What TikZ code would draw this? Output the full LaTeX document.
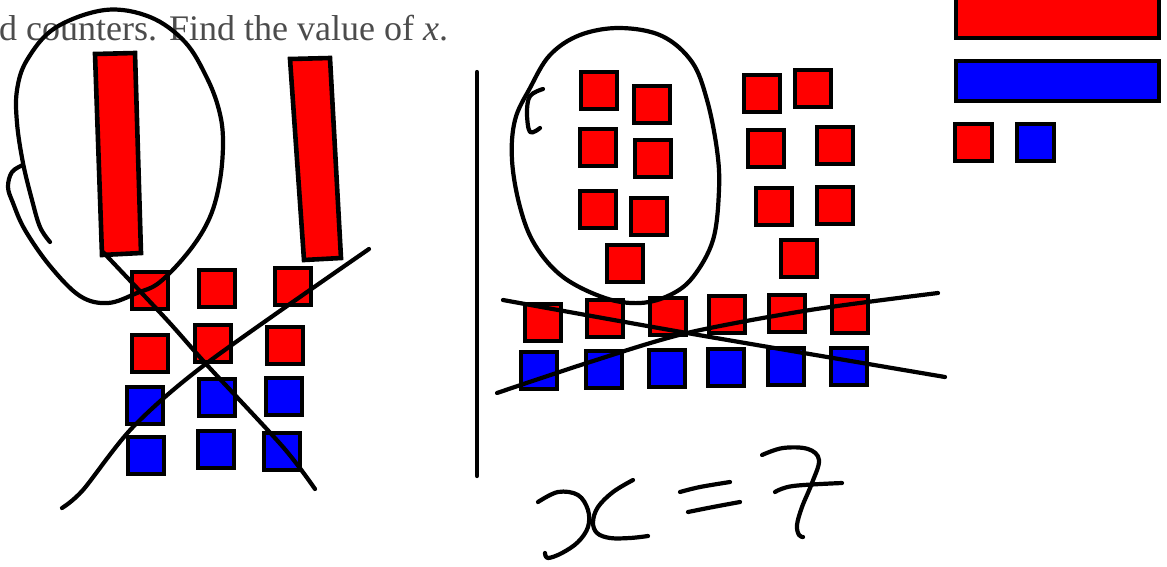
\documentclass[tikz,border=0pt]{standalone}
\usepackage{fontspec}
\setmainfont{Liberation Serif}
\usepackage{tikz}
\definecolor{printgray}{gray}{0.3}

\begin{document}
\begin{tikzpicture}[x=1pt,y=-1pt,
    redtile/.style={draw=black,line width=4.6pt,fill=red},
    bluetile/.style={draw=black,line width=4.6pt,fill=blue},
    pen/.style={line width=4.2pt,line cap=round,line join=round}]
  \useasboundingbox (0,0) rectangle (1167,566);
  % printed question line
  \node[anchor=base west,inner sep=0pt,text=printgray,font=\fontsize{36}{42}\selectfont]
    (question) at (-1,40) {d counters. Find the value of \textit{x}.};
  % key in the corner
  \draw[redtile] (956,-8) rectangle (1159,38);
  \draw[bluetile] (956,61) rectangle (1159,101);
  \draw[redtile] (955,124) rectangle (992,161);
  \draw[bluetile] (1017,124) rectangle (1054,161);
  % left: two long red bars
  \draw[redtile] (95,54) -- (135,53) -- (141,253) -- (102,255) -- cycle;
  \draw[redtile] (290,59) -- (330,58) -- (341,258) -- (304,260) -- cycle;
  % left: counters
  \foreach \x/\y in {130/270,197/268,273/266,130/333,193/323,265/325}
    \draw[redtile] (\x+2,\y+2) rectangle ++(36,37);
  \foreach \x/\y in {125/385,197/377,264/376,126/435,196/429,262/431}
    \draw[bluetile] (\x+2,\y+2) rectangle ++(36,37);
  % left: ring round one bar
  \draw[pen] plot[smooth,tension=0.6] coordinates {(50,242) (40,227) (32,200) (23,163)
    (17,123) (17,90) (27,60) (55,28) (105,10) (150,17) (185,42) (207,78) (219,110)
    (223,140) (220,180) (210,217) (190,250) (160,282) (137,293) (108,303) (80,296)
    (50,266) (25,230) (13,203) (8,187) (12,172) (23,165)};
  % left: crossing out
  \draw[pen] plot[smooth,tension=0.5] coordinates {(103,252) (167,320) (207,365) (283,447) (315,489)};
  \draw[pen] plot[smooth,tension=0.5] coordinates {(369,249) (207,363) (133,427) (83,490) (62,508)};
  % divider
  \draw[pen] (477,72) -- (477,476);
  % right: counters
  \foreach \x/\y in {579/70,632/84,578/127,633/138,578/189,629/196,605/243,
                     742/73,793/68,746/128,815/125,754/186,815/185,779/238,
                     523/302,585/298,648/296,707/294,767/293,830/294}
    \draw[redtile] (\x+2,\y+2) rectangle ++(36,37);
  \foreach \x/\y in {519/350,584/349,647/348,706/347,766/346,829/346}
    \draw[bluetile] (\x+2,\y+2) rectangle ++(36,37);
  % right: ring and hook
  \draw[pen] plot[smooth cycle,tension=0.6] coordinates {(620,28) (662,36) (692,62) (707,100)
    (717,150) (719,190) (713,240) (693,277) (670,295) (640,303) (605,298) (563,277)
    (535,245) (520,207) (512,160) (515,120) (530,88) (550,55) (580,35)};
  \draw[pen] plot[smooth,tension=0.6] coordinates {(543,89) (530,96) (527,113) (530,132) (540,128)};
  % right: crossing out
  \draw[pen] plot[smooth,tension=0.5] coordinates {(503,300) (687,333) (945,377)};
  \draw[pen] plot[smooth,tension=0.5] coordinates {(497,393) (590,362) (687,333) (810,310) (938,293)};
  % answer
  \draw[pen] plot[smooth,tension=0.6] coordinates {(538,502) (558,492) (578,495) (588,510)
    (588,527) (578,542) (562,553) (548,558) (545,553)};
  \draw[pen] plot[smooth,tension=0.6] coordinates {(633,480) (613,492) (598,507) (593,522)
    (597,533) (610,538) (630,538) (648,536)};
  \draw[pen] plot[smooth,tension=0.6] coordinates {(680,492) (700,487) (730,482)};
  \draw[pen] plot[smooth,tension=0.6] coordinates {(688,512) (713,507) (740,502)};
  \draw[pen] plot[smooth,tension=0.6] coordinates {(762,455) (783,448) (808,449) (819,460)
    (812,483) (802,507) (797,525) (799,535) (803,537)};
  \draw[pen] plot[smooth,tension=0.6] coordinates {(775,492) (793,486) (842,483)};
\end{tikzpicture}
\end{document}
